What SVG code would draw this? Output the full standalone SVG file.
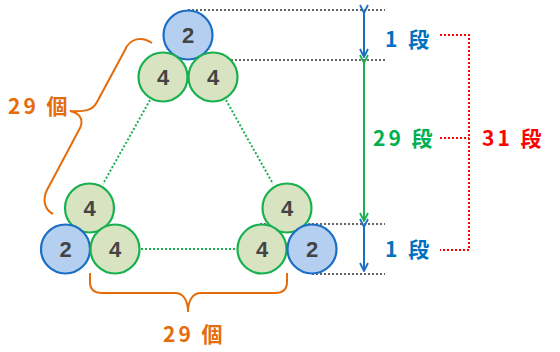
<svg xmlns="http://www.w3.org/2000/svg" width="560" height="352" viewBox="0 0 560 352">
<style>
.b circle{fill:#b4cff0;stroke:#1a6fc4;stroke-width:2.2}
.g circle{fill:#d7e3c1;stroke:#19b050;stroke-width:2.2}
.n{font-family:"Liberation Sans",Arial,sans-serif;font-weight:bold;font-size:22px;fill:#444;text-anchor:middle}
.gd{stroke:#666;stroke-width:2;stroke-dasharray:2 2;fill:none}
.grd{stroke:#19b050;stroke-width:2;stroke-dasharray:2 2;fill:none}
.rd{stroke:#ff0000;stroke-width:2;stroke-dasharray:2 2;fill:none}
.lbl{font-family:"Noto Sans CJK JP","Noto Sans CJK SC",sans-serif;font-weight:bold;font-size:21px;letter-spacing:3px}
.br{stroke:#e46c0a;stroke-width:2;fill:none}
</style>
<defs>
<marker id="ab" viewBox="0 0 10 10" refX="9" refY="5" markerWidth="10" markerHeight="10" markerUnits="userSpaceOnUse" orient="auto"><path d="M1,1 L9,5 L1,9" fill="none" stroke="#1a6fc4" stroke-width="1.8"/></marker>
<marker id="ag" viewBox="0 0 10 10" refX="9" refY="5" markerWidth="10" markerHeight="10" markerUnits="userSpaceOnUse" orient="auto"><path d="M1,1 L9,5 L1,9" fill="none" stroke="#19b050" stroke-width="1.8"/></marker>
</defs>
<g id="connectors">
<line class="gd" x1="188" y1="10" x2="385" y2="10"/>
<line class="gd" x1="195" y1="60" x2="385" y2="60"/>
<line class="gd" x1="260" y1="224" x2="385" y2="224"/>
<line class="gd" x1="312" y1="274" x2="385" y2="274"/>
<line class="grd" x1="150" y1="100" x2="103" y2="184"/>
<line class="grd" x1="226" y1="100" x2="273" y2="184"/>
<line class="grd" x1="141" y1="249" x2="237" y2="249"/>
<line stroke="#1a6fc4" stroke-width="2" x1="364" y1="13" x2="364" y2="57" marker-start="url(#ab)" marker-end="url(#ab)"/>
<line stroke="#19b050" stroke-width="2" x1="364" y1="63" x2="364" y2="221" marker-start="url(#ag)" marker-end="url(#ag)"/>
<line stroke="#1a6fc4" stroke-width="2" x1="364" y1="227" x2="364" y2="271" marker-start="url(#ab)" marker-end="url(#ab)"/>
<path class="rd" d="M440,35 H469 V250 H440 M440,138 H469"/>
<path class="br" d="M152,43 C142,36 130,38 125,50 L97,102 C93,110 86,112 70,111 C80,113 84,120 80,128 L47,190 C42,200 45,210 53,214"/>
<path class="br" d="M90,273 V282 C90,290 94,293 102,293 H175 C183,293 188,300 188,312 C188,300 193,293 201,293 H275 C283,293 287,290 287,282 V273"/>
</g>
<g id="n-top" class="b"><circle cx="188" cy="35" r="24.5"/><text class="n" x="188" y="43">2</text></g>
<g id="n-r2l" class="g"><circle cx="163" cy="77" r="24.5"/><text class="n" x="163" y="85">4</text></g>
<g id="n-r2r" class="g"><circle cx="213" cy="77" r="24.5"/><text class="n" x="213" y="85">4</text></g>
<g id="n-ll" class="g"><circle cx="89.5" cy="208" r="24.5"/><text class="n" x="89.5" y="216">4</text></g>
<g id="n-bl2" class="b"><circle cx="65.5" cy="249" r="24.5"/><text class="n" x="65.5" y="257">2</text></g>
<g id="n-bl4" class="g"><circle cx="115" cy="249" r="24.5"/><text class="n" x="115" y="257">4</text></g>
<g id="n-rr" class="g"><circle cx="287" cy="208" r="24.5"/><text class="n" x="287" y="216">4</text></g>
<g id="n-br4" class="g"><circle cx="262" cy="249" r="24.5"/><text class="n" x="262" y="257">4</text></g>
<g id="n-br2" class="b"><circle cx="312" cy="249" r="24.5"/><text class="n" x="312" y="257">2</text></g>
<g id="labels">
<text class="lbl" x="385" y="47" fill="#0070c0" xml:space="preserve">1 段</text>
<text class="lbl" x="373" y="146" fill="#00b050" xml:space="preserve">29 段</text>
<text class="lbl" x="482" y="146" fill="#ff0000" xml:space="preserve">31 段</text>
<text class="lbl" x="385" y="257" fill="#0070c0" xml:space="preserve">1 段</text>
<text class="lbl" x="8" y="114" fill="#e46c0a" xml:space="preserve">29 個</text>
<text class="lbl" x="163" y="342" fill="#e46c0a" xml:space="preserve">29 個</text>
</g>
</svg>
